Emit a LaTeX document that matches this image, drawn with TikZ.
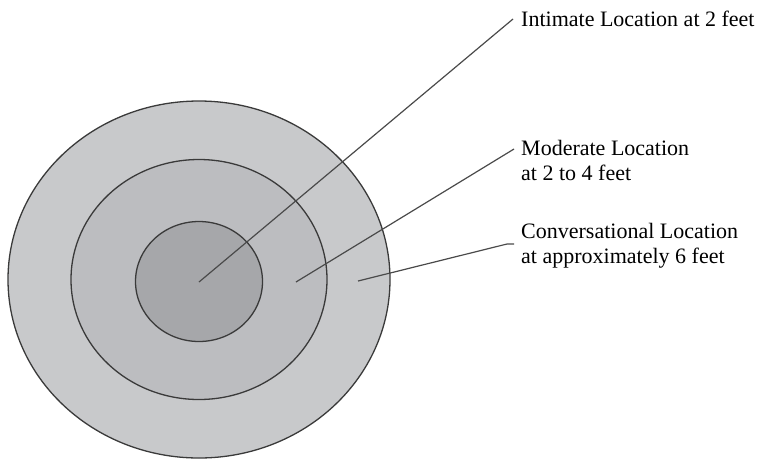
\documentclass[tikz,border=0pt]{standalone}
\usepackage{fontspec}
\setmainfont{Liberation Serif}
\begin{document}
\begin{tikzpicture}[x=1pt,y=-1pt,
  ring/.style={draw=ringline, line width=1.3pt},
  leader/.style={draw=leadline, line width=1.2pt},
  caption/.style={inner sep=0pt, anchor=north west, align=left,
    font=\fontsize{22}{25}\selectfont, text=black}]
\definecolor{outerfill}{HTML}{C8C9CB}
\definecolor{midfill}{HTML}{BCBDC0}
\definecolor{innerfill}{HTML}{A6A7AA}
\definecolor{ringline}{HTML}{3A3A3A}
\definecolor{leadline}{HTML}{4A4A4A}
\useasboundingbox (0,0) rectangle (757,459);

% concentric zones
\coordinate (ctr) at (199,279.5);
\filldraw[ring, fill=outerfill] (ctr) ellipse [x radius=191, y radius=178.5];
\filldraw[ring, fill=midfill]   (ctr) ellipse [x radius=128, y radius=120];
\filldraw[ring, fill=innerfill] (199,281.5) ellipse [x radius=63.5, y radius=60];

% labels
\node[caption] (intimate) at (521,11) {Intimate Location at 2 feet};
\node[caption] (moderate) at (521,140) {Moderate Location\\at 2 to 4 feet};
\node[caption] (convers)  at (521,223) {Conversational Location\\at approximately 6 feet};

% leader end points
\coordinate (p1) at (199,282);
\coordinate (q1) at (513,19);
\coordinate (p2) at (296,282);
\coordinate (q2) at (514,149);
\coordinate (p3) at (358,281);
\coordinate (k3) at (507,244);
\coordinate (q3) at (514,244);

\draw[leader] (p1) -- (q1);
\draw[leader] (p2) -- (q2);
\draw[leader] (p3) -- (k3) -- (q3);
\end{tikzpicture}
\end{document}
